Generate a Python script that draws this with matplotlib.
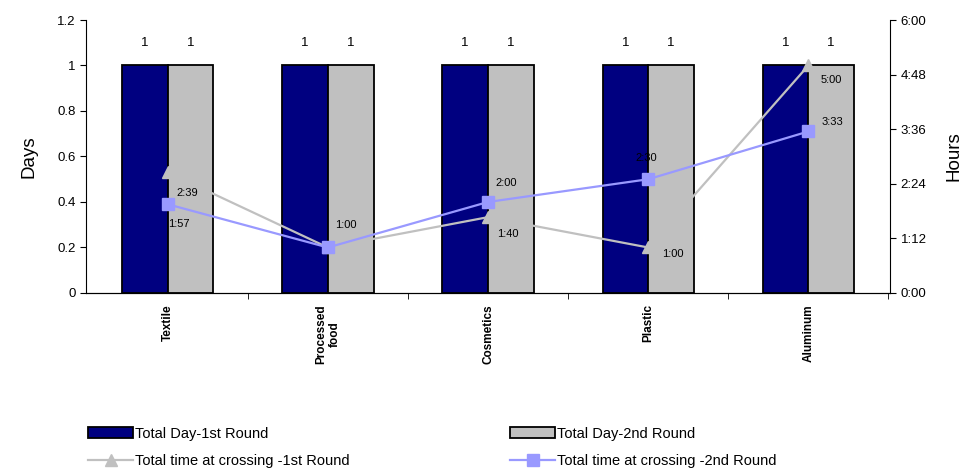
import matplotlib
matplotlib.use("Agg")
import matplotlib.pyplot as plt
import numpy as np
from matplotlib.lines import Line2D
from matplotlib.patches import Patch

plt.rcParams["font.family"] = ["Liberation Sans", "DejaVu Sans"]

categories = ["Textile", "Processed\nfood", "Cosmetics", "Plastic", "Aluminum"]
days_round1 = [1, 1, 1, 1, 1]
days_round2 = [1, 1, 1, 1, 1]
crossing_round1 = ["2:39", "1:00", "1:40", "1:00", "5:00"]
crossing_round2 = ["1:57", "1:00", "2:00", "2:30", "3:33"]

NAVY = "#000080"
SILVER = "#C0C0C0"
PERIWINKLE = "#9999FF"

# where each time label sits relative to its marker (pixels); None = no label
offsets_round1 = [(20, -21), (18, 22), (20, -17), (25, -7), (23, -15)]
offsets_round2 = [(11, -20), None, (18, 19), (-2, 21), (24, 9)]


def to_hours(s):
    h, m = s.split(":")
    return int(h) + int(m) / 60


def fmt_hours(v):
    total = int(round(v * 60))
    return f"{total // 60}:{total % 60:02d}"


x = np.arange(len(categories))
width = 0.285

fig = plt.figure(figsize=(9.74, 4.74), dpi=100)
ax = fig.add_axes([0.0883, 0.3819, 0.8255, 0.5759])

b1 = ax.bar(x - width / 2, days_round1, width, color=NAVY, edgecolor="black", linewidth=1.3, zorder=2)
b2 = ax.bar(x + width / 2, days_round2, width, color=SILVER, edgecolor="black", linewidth=1.3, zorder=2)
for bars in (b1, b2):
    for bar in bars:
        ax.annotate(f"{bar.get_height():g}", (bar.get_x() + bar.get_width() / 2, bar.get_height()),
                    xytext=(0, 22), textcoords="offset pixels", ha="center", va="center", fontsize=9.5)

ax.set_xlim(-0.51, 4.51)
ax.set_ylim(0, 1.2)
ax.set_yticks(np.arange(0, 1.21, 0.2))
ax.set_yticklabels(["0", "0.2", "0.4", "0.6", "0.8", "1", "1.2"])
ax.set_ylabel("Days", fontsize=13.5, labelpad=14)
ax.set_xticks(x)
ax.set_xticklabels(categories, rotation=90, fontsize=8.5, fontweight="bold", va="top", ha="center",
                   multialignment="center")
ax.tick_params(axis="x", which="major", length=0, pad=8)
ax.set_xticks(np.arange(0.5, 4.6, 1), minor=True)
ax.tick_params(axis="x", which="minor", length=4, direction="out")
ax.tick_params(axis="y", labelsize=9.5, length=4, direction="out")
for side in ("top", "right"):
    ax.spines[side].set_visible(False)

ax2 = ax.twinx()
ax2.set_ylim(0, 6)
hour_ticks = np.arange(0, 6.01, 1.2)
ax2.set_yticks(hour_ticks)
ax2.set_yticklabels([fmt_hours(t) for t in hour_ticks])
ax2.tick_params(axis="y", labelsize=9.5, length=4, direction="out")
ax2.set_ylabel("Hours", fontsize=13.5, labelpad=14)
ax2.spines["top"].set_visible(False)
ax2.spines["left"].set_visible(False)

h1 = [to_hours(s) for s in crossing_round1]
h2 = [to_hours(s) for s in crossing_round2]
ax2.plot(x, h1, color=SILVER, linewidth=1.6, marker="^", markersize=9, zorder=3)
ax2.plot(x, h2, color=PERIWINKLE, linewidth=1.6, marker="s", markersize=8, zorder=4)

for vals, labels, offs in ((h1, crossing_round1, offsets_round1), (h2, crossing_round2, offsets_round2)):
    for xi, v, lab, off in zip(x, vals, labels, offs):
        if off is None:
            continue
        ax2.annotate(lab, (xi, v), xytext=off, textcoords="offset pixels",
                     ha="center", va="center", fontsize=8, zorder=5)

legend_font = {"family": ["Liberation Sans Narrow", "Liberation Sans"], "size": 10.5}
col1 = [Patch(facecolor=NAVY, edgecolor="black", linewidth=1.3),
        Line2D([], [], color=SILVER, linewidth=1.6, marker="^", markersize=9)]
col2 = [Patch(facecolor=SILVER, edgecolor="black", linewidth=1.3),
        Line2D([], [], color=PERIWINKLE, linewidth=1.6, marker="s", markersize=8)]
names1 = ["Total Day-1st Round", "Total time at crossing -1st Round"]
names2 = ["Total Day-2nd Round", "Total time at crossing -2nd Round"]
for handles, names, x0 in ((col1, names1, 0.0903), (col2, names2, 0.5236)):
    fig.legend(handles, names, loc="upper left", bbox_to_anchor=(x0, 0.1), frameon=False,
               prop=legend_font, handlelength=3.1, handletextpad=0.15, borderpad=0,
               borderaxespad=0, labelspacing=0.95)

fig.savefig("out.png", dpi=100, facecolor="white")
